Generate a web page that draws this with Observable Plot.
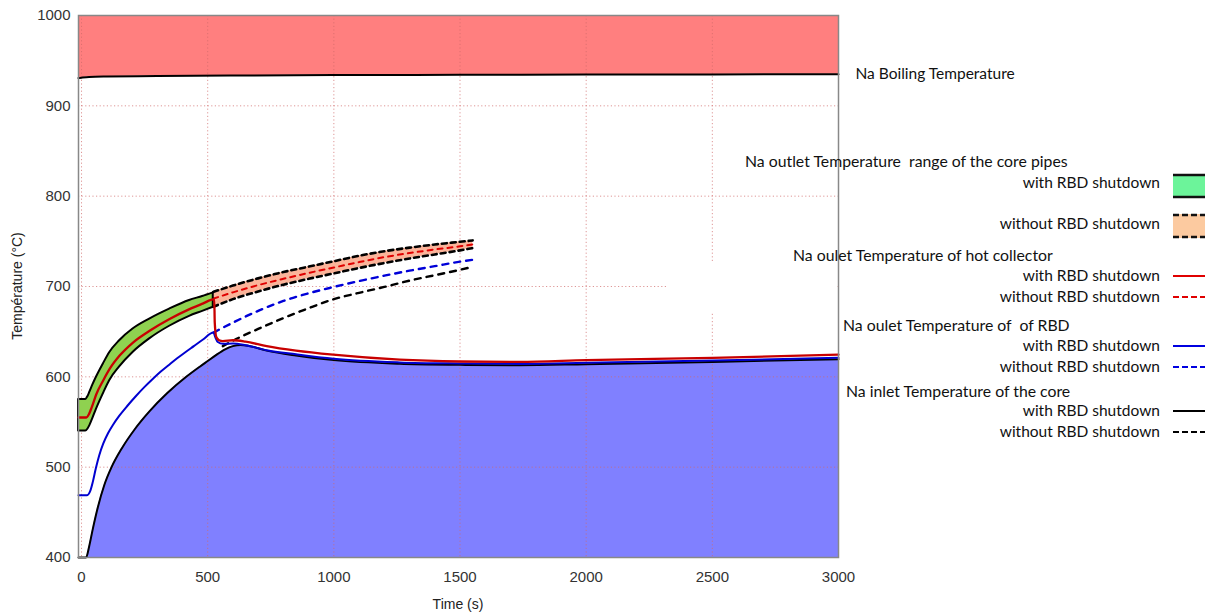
<!DOCTYPE html>
<html><head><meta charset="utf-8">
<script src="https://cdn.jsdelivr.net/npm/d3@7"></script>
<script src="https://cdn.jsdelivr.net/npm/@observablehq/plot@0.6"></script>
<style>
body{margin:0;background:#fff;}
#wrap{position:relative;width:1211px;height:616px;}
#wrap svg.overlay{position:absolute;left:0;top:0;pointer-events:none;}
</style></head><body><div id="wrap"></div>
<script>
// ---- ticks ----
const xTicks = [0, 500, 1000, 1500, 2000, 2500, 3000];
const yTicks = [400, 500, 600, 700, 800, 900, 1000];
const xDomain = [-12, 3000];

// ---- Na boiling temperature ----
const boilT = [-12, 0, 30, 100, 300, 600, 1000, 1500, 2000, 2500, 3000];
const boilV = [930.8, 931.2, 932, 932.5, 933, 933.5, 934, 934.3, 934.6, 934.8, 935];

// ---- Na inlet temperature of the core (with RBD shutdown) ----
const inletT = [-12, 18, 30, 45, 65, 90, 119, 160, 211, 270, 340, 415, 470, 500, 530, 569, 600, 630, 660, 734, 850, 1000, 1261, 1500, 1736, 2000, 2500, 3000];
const inletV = [400, 400, 412, 432, 456, 480, 500, 521, 542, 562, 582, 600, 611.5, 617.5, 623.5, 630.5, 634, 635.3, 634.5, 629, 623.5, 618.5, 614.5, 613.3, 612.8, 614, 616.5, 619.5];

// ---- Na outlet temperature of RBD (with RBD shutdown) ----
const rbdT = [-12, 22, 35, 45, 57, 70, 86, 105, 125, 150, 182, 215, 247, 280, 313, 350, 379, 410, 445, 480, 523, 530, 540, 560, 600, 650, 734, 850, 1000, 1261, 1500, 1736, 2000, 2500, 3000];
const rbdV = [469, 469, 474, 484, 499, 513, 526, 537.5, 547, 557, 568, 578.5, 588, 597, 605.5, 614, 620.5, 627, 634, 641, 649, 644, 638.5, 636.5, 636.8, 635, 629.5, 625, 620, 616, 614.8, 614.3, 615.5, 618, 621];

// ---- Na outlet temperature of hot collector (with RBD shutdown) ----
const hotT = [-12, 19, 30, 40, 59, 86, 112, 151, 204, 270, 349, 428, 480, 526, 528, 534, 545, 560, 600, 650, 734, 850, 997, 1261, 1500, 1736, 2000, 2500, 3000];
const hotV = [555, 555, 559, 566, 581, 596, 609, 623.5, 638, 651, 664, 675, 681, 686, 660, 644, 640.5, 639.5, 640.5, 639, 634, 629, 624.5, 619, 617, 616.5, 618.5, 621, 624.5];

// ---- Core pipes outlet range (with RBD shutdown) ----
const coreT = [-12, 17, 25, 33, 45, 59, 86, 112, 151, 204, 270, 349, 428, 480, 522];
const coreHi = [575, 575, 578, 583, 591, 599.5, 614, 627, 640, 653, 664, 675, 684.5, 689, 693];
const coreLo = [540, 540, 542, 546, 554, 564, 581, 596, 611, 627, 642, 656, 667, 672.5, 677];

// ---- Without RBD shutdown ----
const woT = [522, 600, 700, 800, 900, 1000, 1100, 1200, 1300, 1400, 1500, 1550];
const woCoreHi = [694, 701, 709, 716, 722, 728, 734, 739, 743, 746.5, 749.5, 751];
const woHot = [686.5, 693.5, 701.5, 708.5, 715, 721, 727, 732.5, 737, 741, 744.5, 746.5];
const woCoreLo = [677.5, 686, 694.5, 702, 708.5, 714.5, 720.5, 726, 731, 735.5, 740, 742.5];
const woRbdT = [523, 600, 700, 800, 900, 1000, 1100, 1200, 1300, 1400, 1500, 1550];
const woRbdV = [649, 660, 673, 684, 692.5, 699.5, 706, 712, 717.5, 722.5, 727.5, 729.5];
const woInletT = [560, 600, 700, 800, 900, 1000, 1100, 1200, 1300, 1400, 1500, 1545];
const woInletV = [634, 640, 653, 665, 676, 686, 693, 699.5, 706.5, 712.5, 718.5, 721.5];

// ---- texts ----
const boilLabel = "Na Boiling Temperature";
const xLabel = "Time (s)";
const yLabel = "Température (°C)";
const legendGroups = ["Na outlet Temperature  range of the core pipes", "Na oulet Temperature of hot collector", "Na oulet Temperature of  of RBD", "Na inlet Temperature of the core"];
const legendSub = ["with RBD shutdown", "without RBD shutdown"];

// ---- build tables ----
const pts = (ts, vs) => ts.map((t, i) => ({t, v: vs[i]}));
const yMin = d3.min(yTicks), yMax = d3.max(yTicks);
const boil = boilT.map((t, i) => ({t, v: boilV[i], top: yMax}));
const inlet = inletT.map((t, i) => ({t, v: inletV[i], bottom: yMin}));
const core = coreT.map((t, i) => ({t, hi: coreHi[i], lo: coreLo[i]}));
const wo = woT.map((t, i) => ({t, hi: woCoreHi[i], mid: woHot[i], lo: woCoreLo[i]}));

const gridStyle = {stroke: "#d06a6a", strokeOpacity: 0.7, strokeDasharray: "1.2,2.4", strokeWidth: 1};
const C = "monotone-x";

const chart = Plot.plot({
  width: 1211, height: 616,
  marginLeft: 78, marginRight: 373, marginTop: 15, marginBottom: 59,
  style: {fontFamily: "'Liberation Sans', Arial, sans-serif", fontSize: "15px", color: "#333", background: "white", overflow: "visible"},
  x: {domain: xDomain},
  y: {domain: [yMin, yMax]},
  marks: [
    Plot.areaY(boil, {x: "t", y1: "v", y2: "top", fill: "#ff7f7f", curve: C}),
    Plot.areaY(inlet, {x: "t", y1: "bottom", y2: "v", fill: "#8080ff", curve: C}),
    Plot.gridX({ticks: xTicks, ...gridStyle}),
    Plot.gridY({ticks: yTicks, ...gridStyle}),
    Plot.line(boil, {x: "t", y: "v", stroke: "black", strokeWidth: 2, curve: C}),
    Plot.text(boil.slice(-1), {x: "t", y: "v", text: () => boilLabel, textAnchor: "start", dx: 17, fontFamily: "Lato, 'Open Sans', sans-serif", fontSize: 15.5, fill: "#111"}),
    // without RBD shutdown band
    Plot.areaY(wo, {x: "t", y1: "lo", y2: "hi", fill: "#fbb49a", curve: C}),
    Plot.line(wo, {x: "t", y: "hi", stroke: "black", strokeWidth: 2.6, strokeDasharray: "5,4", curve: C}),
    Plot.line(wo, {x: "t", y: "lo", stroke: "black", strokeWidth: 2.6, strokeDasharray: "5,4", curve: C}),
    Plot.line(wo, {x: "t", y: "mid", stroke: "#e00000", strokeWidth: 2, strokeDasharray: "5,5", curve: C}),
    Plot.line(pts(woRbdT, woRbdV), {x: "t", y: "v", stroke: "#0000d8", strokeWidth: 2.4, strokeDasharray: "6,6", curve: C}),
    Plot.line(pts(woInletT, woInletV), {x: "t", y: "v", stroke: "black", strokeWidth: 2.4, strokeDasharray: "6,6", curve: C}),
    // with RBD shutdown band
    Plot.areaY(core, {x: "t", y1: "lo", y2: "hi", fill: "#8fd150", stroke: "black", strokeWidth: 2, curve: C}),
    Plot.line(pts(inletT, inletV), {x: "t", y: "v", stroke: "black", strokeWidth: 2, curve: C}),
    Plot.line(pts(rbdT, rbdV), {x: "t", y: "v", stroke: "#0000d0", strokeWidth: 2, curve: C}),
    Plot.line(pts(hotT, hotV), {x: "t", y: "v", stroke: "#c80000", strokeWidth: 2.3, curve: C}),
    Plot.frame({stroke: "#888", strokeWidth: 1.5}),
    Plot.axisX({ticks: xTicks, tickFormat: "d", tickSize: 0, tickPadding: 14, label: null, fontFamily: "'Liberation Sans Narrow', 'Liberation Sans', Arial, sans-serif", fontSize: 15, fill: "#333"}),
    Plot.axisY({ticks: yTicks, tickFormat: "d", tickSize: 0, tickPadding: 8, label: null, fontSize: 15, fill: "#333"})
  ]
});
const wrap = document.getElementById("wrap");
wrap.appendChild(chart);

// ---- overlay: axis titles, legend ----
const svg = d3.select(wrap).append("svg").attr("class", "overlay")
  .attr("width", 1211).attr("height", 616)
  .style("font-family", "Lato, 'Open Sans', sans-serif");

// white legend patch over the plot area
svg.append("rect").attr("x", 667).attr("y", 262).attr("width", 169).attr("height", 51).attr("fill", "white");

svg.append("text").attr("x", 458).attr("y", 609).attr("text-anchor", "middle")
  .style("font-family", "'Liberation Sans', Arial, sans-serif").style("font-size", "14px").attr("fill", "#222").text(xLabel);
svg.append("text").attr("transform", "translate(22,286) rotate(-90)").attr("text-anchor", "middle")
  .style("font-family", "'Liberation Sans', Arial, sans-serif").style("font-size", "14px").attr("fill", "#222").text(yLabel);

const headerX = [745, 793, 843, 846];
const headerY = [161, 255, 325, 391];
const subY = [[183, 224], [276, 297], [346, 367], [411, 432]];
const lineColors = [null, "#e00000", "#0000e0", "black"];
const textRight = 1160, swX1 = 1173, swX2 = 1205;

legendGroups.forEach((g, gi) => {
  svg.append("text").attr("x", headerX[gi]).attr("y", headerY[gi]).attr("dy", "0.35em")
    .style("font-size", "15.8px").style("white-space", "pre").attr("fill", "#111").text(g);
  legendSub.forEach((s, si) => {
    const y = subY[gi][si];
    svg.append("text").attr("x", textRight).attr("y", y).attr("dy", "0.35em").attr("text-anchor", "end")
      .style("font-size", "15.5px").attr("fill", "#111").text(s);
    if (gi === 0) {
      const cy = y + (si === 0 ? 3 : 2);
      svg.append("rect").attr("x", swX1).attr("y", cy - 12).attr("width", swX2 - swX1).attr("height", 24)
        .attr("fill", si === 0 ? "#6cf49a" : "#fccaa0");
      [cy - 11, cy + 11].forEach(ly => svg.append("line").attr("x1", swX1).attr("x2", swX2).attr("y1", ly).attr("y2", ly)
        .attr("stroke", "#111").attr("stroke-width", 2.5).attr("stroke-dasharray", si === 0 ? null : "6,3"));
    } else {
      svg.append("line").attr("x1", swX1).attr("x2", swX2).attr("y1", y).attr("y2", y)
        .attr("stroke", lineColors[gi]).attr("stroke-width", 2).attr("stroke-dasharray", si === 0 ? null : "6,3");
    }
  });
});
</script></body></html>
